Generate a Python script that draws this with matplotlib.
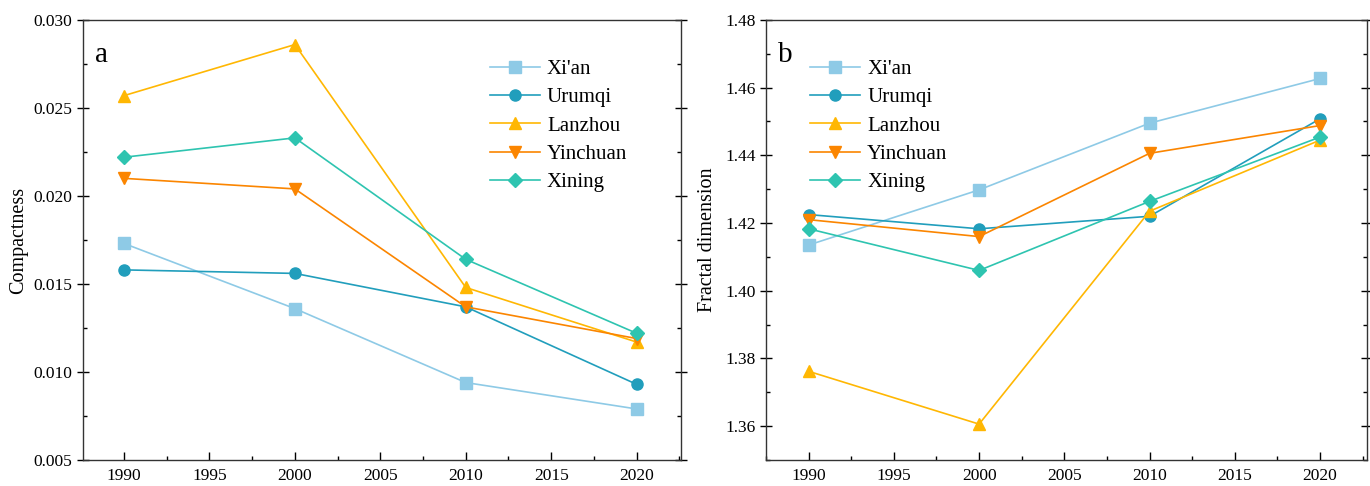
import matplotlib.pyplot as plt
from matplotlib.ticker import MultipleLocator

plt.rcParams['font.family'] = ['Liberation Serif', 'DejaVu Serif']

years = [1990, 2000, 2010, 2020]
cities = ["Xi'an", 'Urumqi', 'Lanzhou', 'Yinchuan', 'Xining']
colors = ['#8ecae6', '#219ebc', '#ffb703', '#fb8500', '#2ec4b0']
markers = ['s', 'o', '^', 'v', 'D']

# compactness
comp_xian = [0.0173, 0.0136, 0.0094, 0.0079]
comp_urumqi = [0.0158, 0.0156, 0.0137, 0.0093]
comp_lanzhou = [0.0257, 0.0286, 0.0148, 0.0117]
comp_yinchuan = [0.0210, 0.0204, 0.0137, 0.0119]
comp_xining = [0.0222, 0.0233, 0.0164, 0.0122]

# fractal dimension
fd_xian = [1.4135, 1.4298, 1.4495, 1.4627]
fd_urumqi = [1.4225, 1.4183, 1.4220, 1.4508]
fd_lanzhou = [1.3762, 1.3606, 1.4235, 1.4445]
fd_yinchuan = [1.4210, 1.4160, 1.4406, 1.4488]
fd_xining = [1.4183, 1.4060, 1.4264, 1.4454]

comp = [comp_xian, comp_urumqi, comp_lanzhou, comp_yinchuan, comp_xining]
fd = [fd_xian, fd_urumqi, fd_lanzhou, fd_yinchuan, fd_xining]

fig = plt.figure(figsize=(13.7, 4.86), dpi=100)
ax1 = fig.add_axes([0.0606, 0.0535, 0.4365, 0.9055])
ax2 = fig.add_axes([0.5591, 0.0535, 0.4387, 0.9055])


def style(ax):
    ax.xaxis.set_major_locator(MultipleLocator(5))
    ax.xaxis.set_minor_locator(MultipleLocator(2.5))
    ax.tick_params(axis='x', which='major', direction='in', length=6, width=1,
                   labelsize=12.5, pad=6)
    ax.tick_params(axis='x', which='minor', direction='in', length=3, width=1)
    ax.tick_params(axis='y', which='major', direction='inout', length=8, width=1,
                   labelsize=12.5, right=True)
    ax.tick_params(axis='y', which='minor', direction='in', length=3, width=1,
                   right=True)
    for s in ax.spines.values():
        s.set_linewidth(1)
        s.set_color('#333333')


def legend(ax, x):
    ax.legend(loc='upper left', bbox_to_anchor=(x, 0.91), frameon=False,
              fontsize=15, handlelength=2.4, handletextpad=0.35,
              labelspacing=0.42, borderpad=0, borderaxespad=0)


for vals, name, c, m in zip(comp, cities, colors, markers):
    ax1.plot(years, vals, color=c, marker=m, markersize=8 if m != 'D' else 7,
             linewidth=1.2, label=name)
style(ax1)
ax1.set_xlim(1987.6, 2022.6)
ax1.set_ylim(0.005, 0.030)
ax1.yaxis.set_major_locator(MultipleLocator(0.005))
ax1.yaxis.set_minor_locator(MultipleLocator(0.0025))
ax1.yaxis.set_major_formatter(plt.FormatStrFormatter('%.3f'))
ax1.set_ylabel('Compactness', fontsize=14.5, labelpad=4)
ax1.text(0.02, 0.95, 'a', transform=ax1.transAxes, fontsize=21, va='top')
legend(ax1, 0.68)

for vals, name, c, m in zip(fd, cities, colors, markers):
    ax2.plot(years, vals, color=c, marker=m, markersize=8 if m != 'D' else 7,
             linewidth=1.2, label=name)
style(ax2)
ax2.set_xlim(1987.5, 2022.75)
ax2.set_ylim(1.35, 1.48)
ax2.yaxis.set_major_locator(MultipleLocator(0.02))
ax2.yaxis.set_minor_locator(MultipleLocator(0.01))
ax2.yaxis.set_major_formatter(plt.FormatStrFormatter('%.2f'))
ax2.set_ylabel('Fractal dimension', fontsize=14.5, labelpad=6)
ax2.text(0.02, 0.95, 'b', transform=ax2.transAxes, fontsize=21, va='top')
legend(ax2, 0.073)

fig.savefig('out.png', dpi=100)
